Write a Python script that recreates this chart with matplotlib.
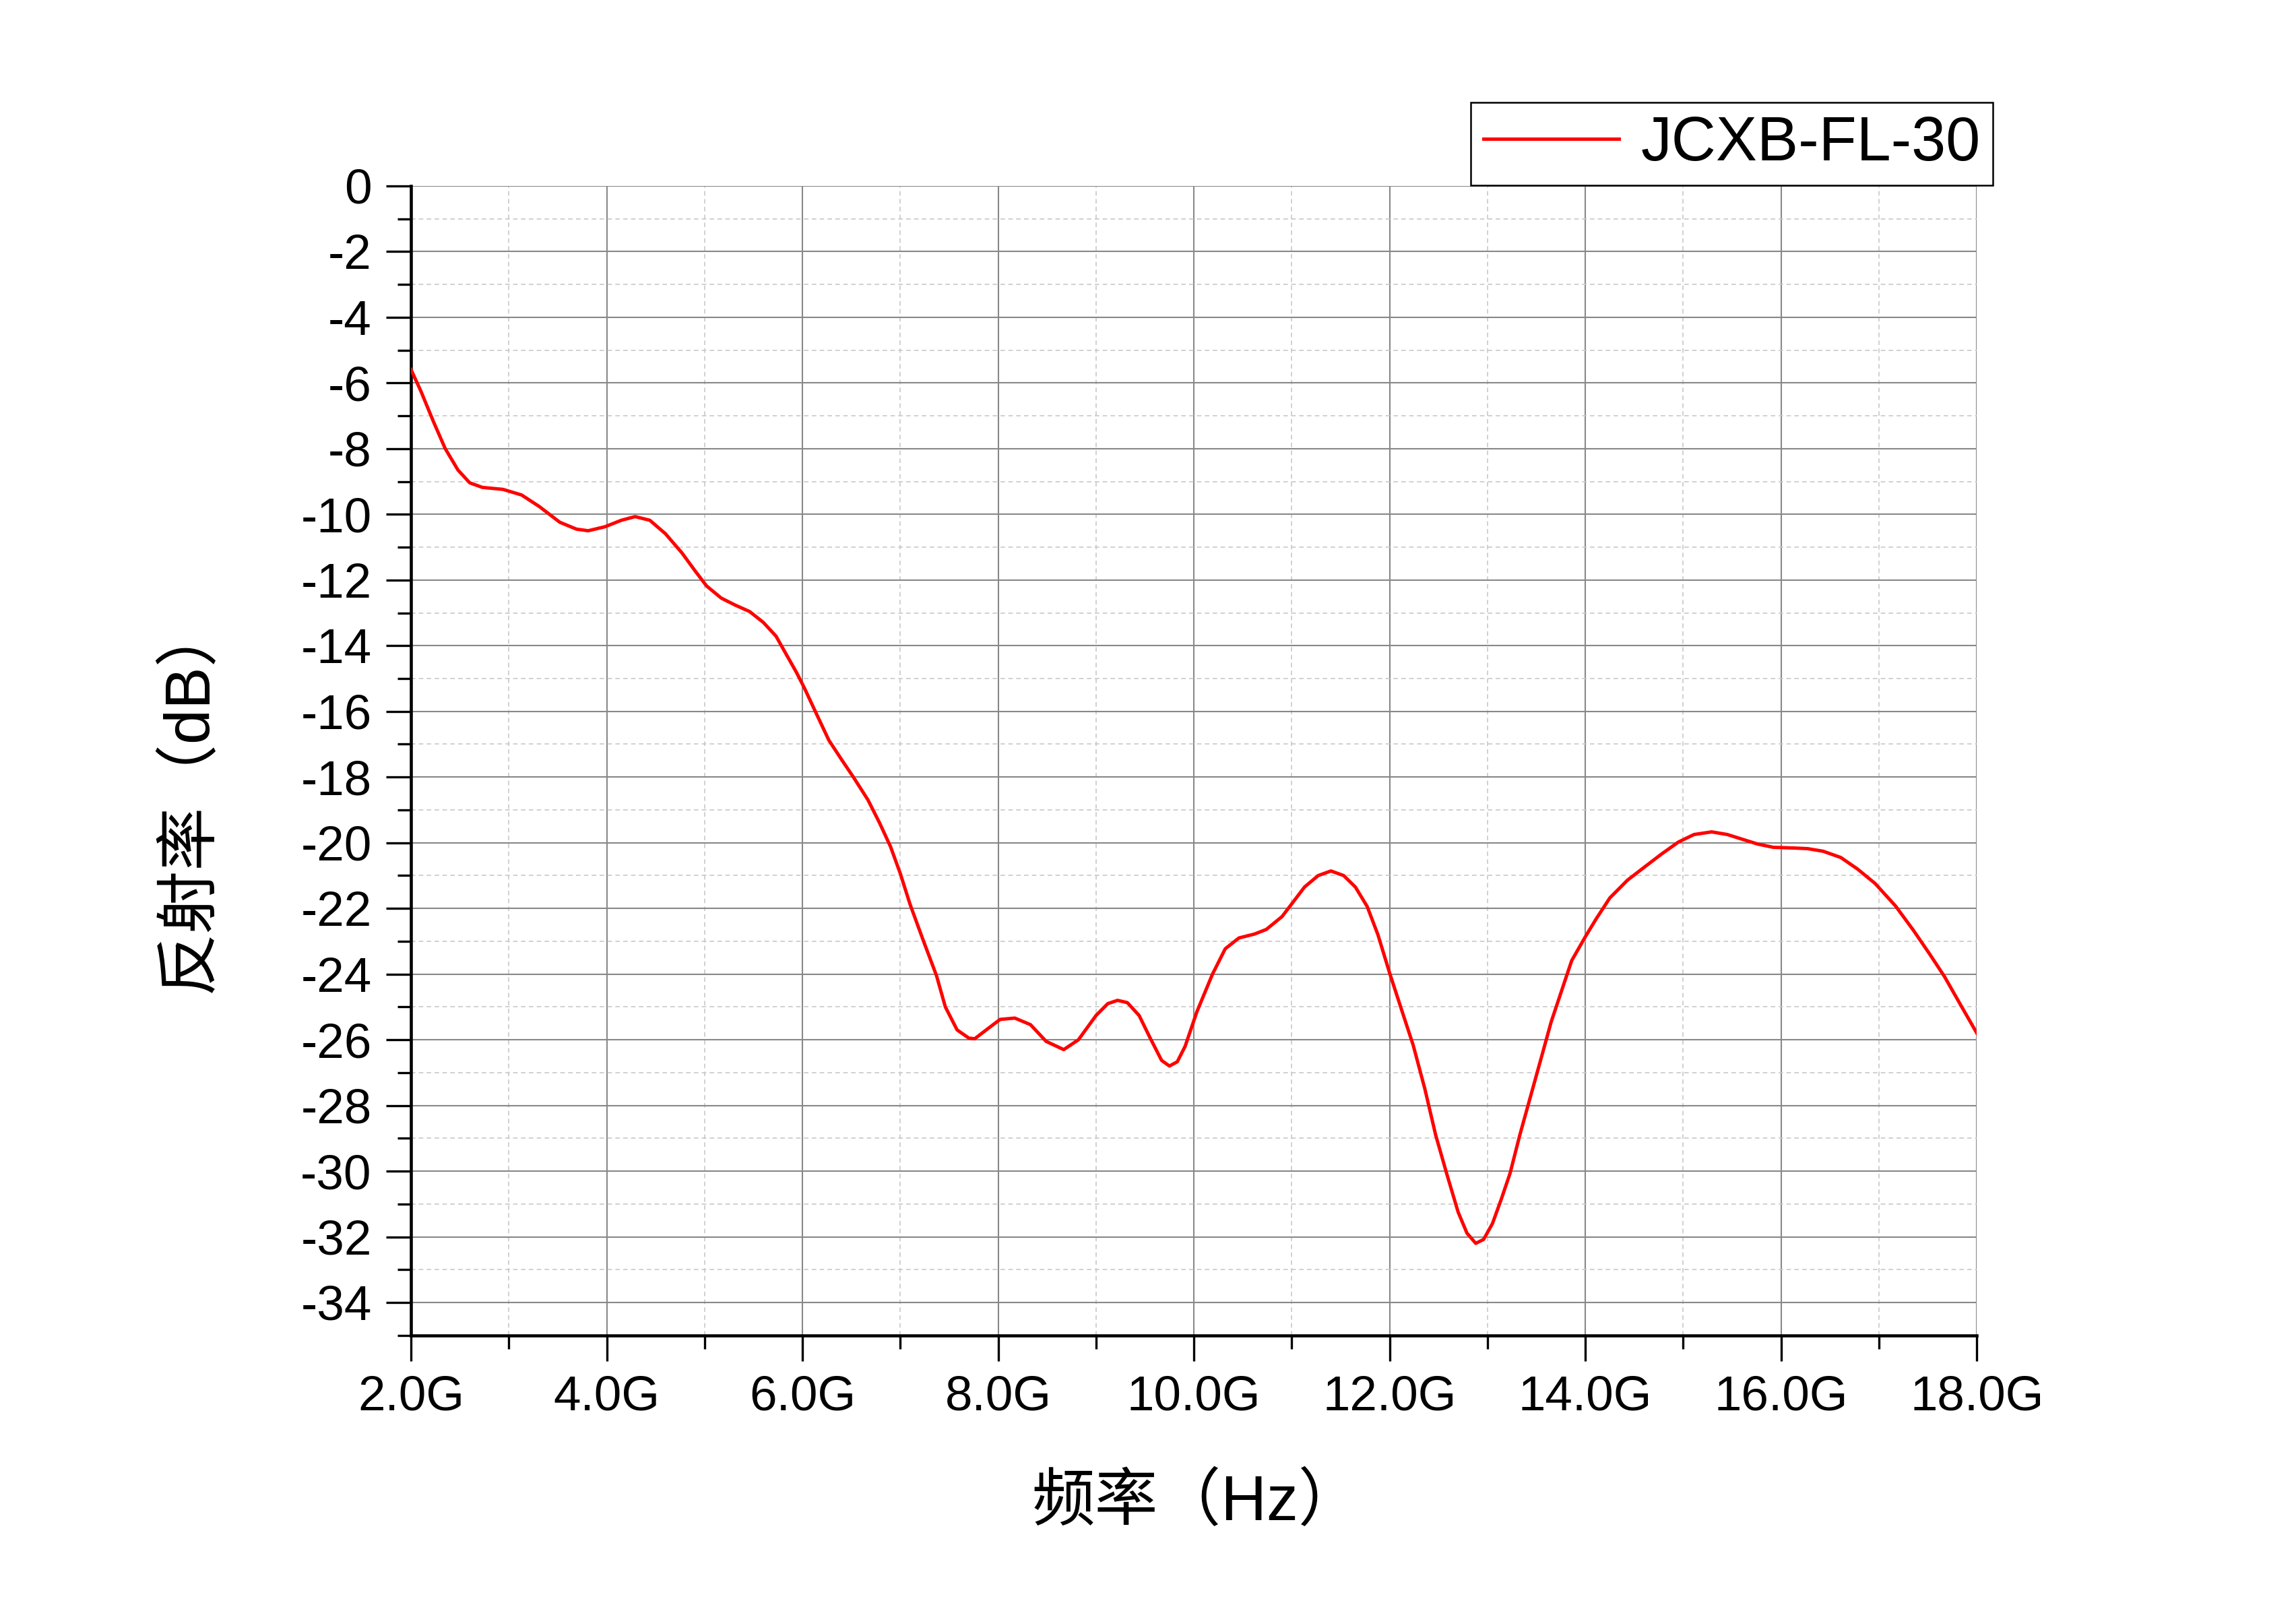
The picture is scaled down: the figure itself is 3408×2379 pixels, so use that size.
import matplotlib
matplotlib.use('Agg')
import matplotlib.pyplot as plt
import numpy as np
from matplotlib.ticker import MultipleLocator, FuncFormatter

# frequency (GHz) and reflectivity (dB)
freq = [2.00, 2.10, 2.23, 2.35, 2.48, 2.60, 2.73, 2.94, 3.13, 3.31, 3.52, 3.69,
        3.81, 3.98, 4.15, 4.29, 4.44, 4.60, 4.77, 4.90, 5.02, 5.17, 5.31, 5.46,
        5.60, 5.73, 5.83, 5.94, 6.02, 6.15, 6.27, 6.40, 6.52, 6.67, 6.79, 6.90,
        7.00, 7.10, 7.23, 7.37, 7.46, 7.58, 7.70, 7.76, 7.90, 8.02, 8.17, 8.33,
        8.49, 8.67, 8.82, 9.00, 9.12, 9.22, 9.32, 9.44, 9.55, 9.67, 9.75, 9.83,
        9.91, 10.03, 10.19, 10.32, 10.46, 10.62, 10.74, 10.90, 11.00, 11.13,
        11.27, 11.40, 11.53, 11.65, 11.77, 11.88, 12.00, 12.12, 12.24, 12.36,
        12.47, 12.59, 12.70, 12.79, 12.88, 12.96, 13.05, 13.14, 13.23, 13.33,
        13.44, 13.55, 13.65, 13.76, 13.86, 14.00, 14.11, 14.25, 14.43, 14.60,
        14.78, 14.95, 15.11, 15.29, 15.45, 15.62, 15.76, 15.92, 16.12, 16.27,
        16.43, 16.61, 16.78, 16.96, 17.17, 17.35, 17.52, 17.67, 17.84, 18.00]
refl = [-5.59, -6.24, -7.18, -8.00, -8.65, -9.04, -9.18, -9.24, -9.41, -9.76,
        -10.24, -10.45, -10.50, -10.38, -10.18, -10.07, -10.18, -10.59, -11.18,
        -11.71, -12.18, -12.55, -12.76, -12.96, -13.29, -13.71, -14.24, -14.82,
        -15.29, -16.12, -16.88, -17.47, -18.00, -18.70, -19.41, -20.12, -20.94,
        -21.88, -22.94, -24.05, -25.00, -25.70, -25.95, -25.97, -25.65, -25.38,
        -25.34, -25.54, -26.05, -26.30, -26.00, -25.26, -24.90, -24.80, -24.87,
        -25.26, -25.93, -26.63, -26.80, -26.67, -26.20, -25.15, -24.00, -23.23,
        -22.90, -22.78, -22.64, -22.25, -21.86, -21.35, -21.00, -20.86, -21.00,
        -21.35, -21.94, -22.80, -23.97, -25.07, -26.16, -27.50, -28.90, -30.15,
        -31.25, -31.89, -32.20, -32.08, -31.60, -30.86, -30.07, -28.90, -27.72,
        -26.54, -25.46, -24.48, -23.59, -22.86, -22.32, -21.68, -21.14, -20.75,
        -20.34, -19.98, -19.75, -19.67, -19.75, -19.91, -20.04, -20.14, -20.16,
        -20.18, -20.26, -20.45, -20.80, -21.24, -21.93, -22.66, -23.40, -24.08,
        -24.97, -25.80]
series_name = 'JCXB-FL-30'

plt.rcParams['font.family'] = ['Liberation Sans', 'Noto Sans CJK SC']

fig = plt.figure(figsize=(11.36, 7.93), dpi=300)
ax = fig.add_axes([0.179, 0.167, 0.682, 0.717])

ax.plot(freq, refl, color='#ff0000', linewidth=1.2, label=series_name, zorder=3)

ax.set_xlim(2, 18)
ax.set_ylim(-35, 0)
ax.xaxis.set_major_locator(MultipleLocator(2))
ax.xaxis.set_minor_locator(MultipleLocator(1))
ax.yaxis.set_major_locator(MultipleLocator(2))
ax.yaxis.set_minor_locator(MultipleLocator(1))
ax.xaxis.set_major_formatter(FuncFormatter(lambda v, p: f'{v:.1f}G'))
ax.yaxis.set_major_formatter(FuncFormatter(lambda v, p: f'{v:.0f}'))

ax.grid(which='major', color='#888888', linestyle='-', linewidth=0.5)
ax.grid(which='minor', color='#c8c8c8', linestyle=(0, (4, 3)), linewidth=0.4)
ax.set_axisbelow(True)

for s in ['top', 'right']:
    ax.spines[s].set_visible(False)
for s in ['left', 'bottom']:
    ax.spines[s].set_linewidth(1.1)
    ax.spines[s].set_color('black')

ax.tick_params(axis='both', which='major', direction='out', length=9, width=0.8,
               labelsize=17.5, pad=5)
ax.tick_params(axis='both', which='minor', direction='out', length=4.8, width=0.8)

ax.set_xlabel('频率（Hz）', fontsize=22.5)
ax.set_ylabel('反射率（dB）', fontsize=22.5)
ax.xaxis.set_label_coords(0.502, -0.12)
ax.yaxis.set_label_coords(-0.122, 0.469)

leg = ax.legend(loc='upper right', bbox_to_anchor=(0.868, 0.936),
                bbox_transform=fig.transFigure, fontsize=22, frameon=True,
                fancybox=False, shadow=False, framealpha=1, edgecolor='black',
                borderpad=0.2, handlelength=2.2, handletextpad=0.35,
                borderaxespad=0)
leg.get_frame().set_linewidth(0.6)

fig.savefig('out.png', dpi=300, facecolor='white')
